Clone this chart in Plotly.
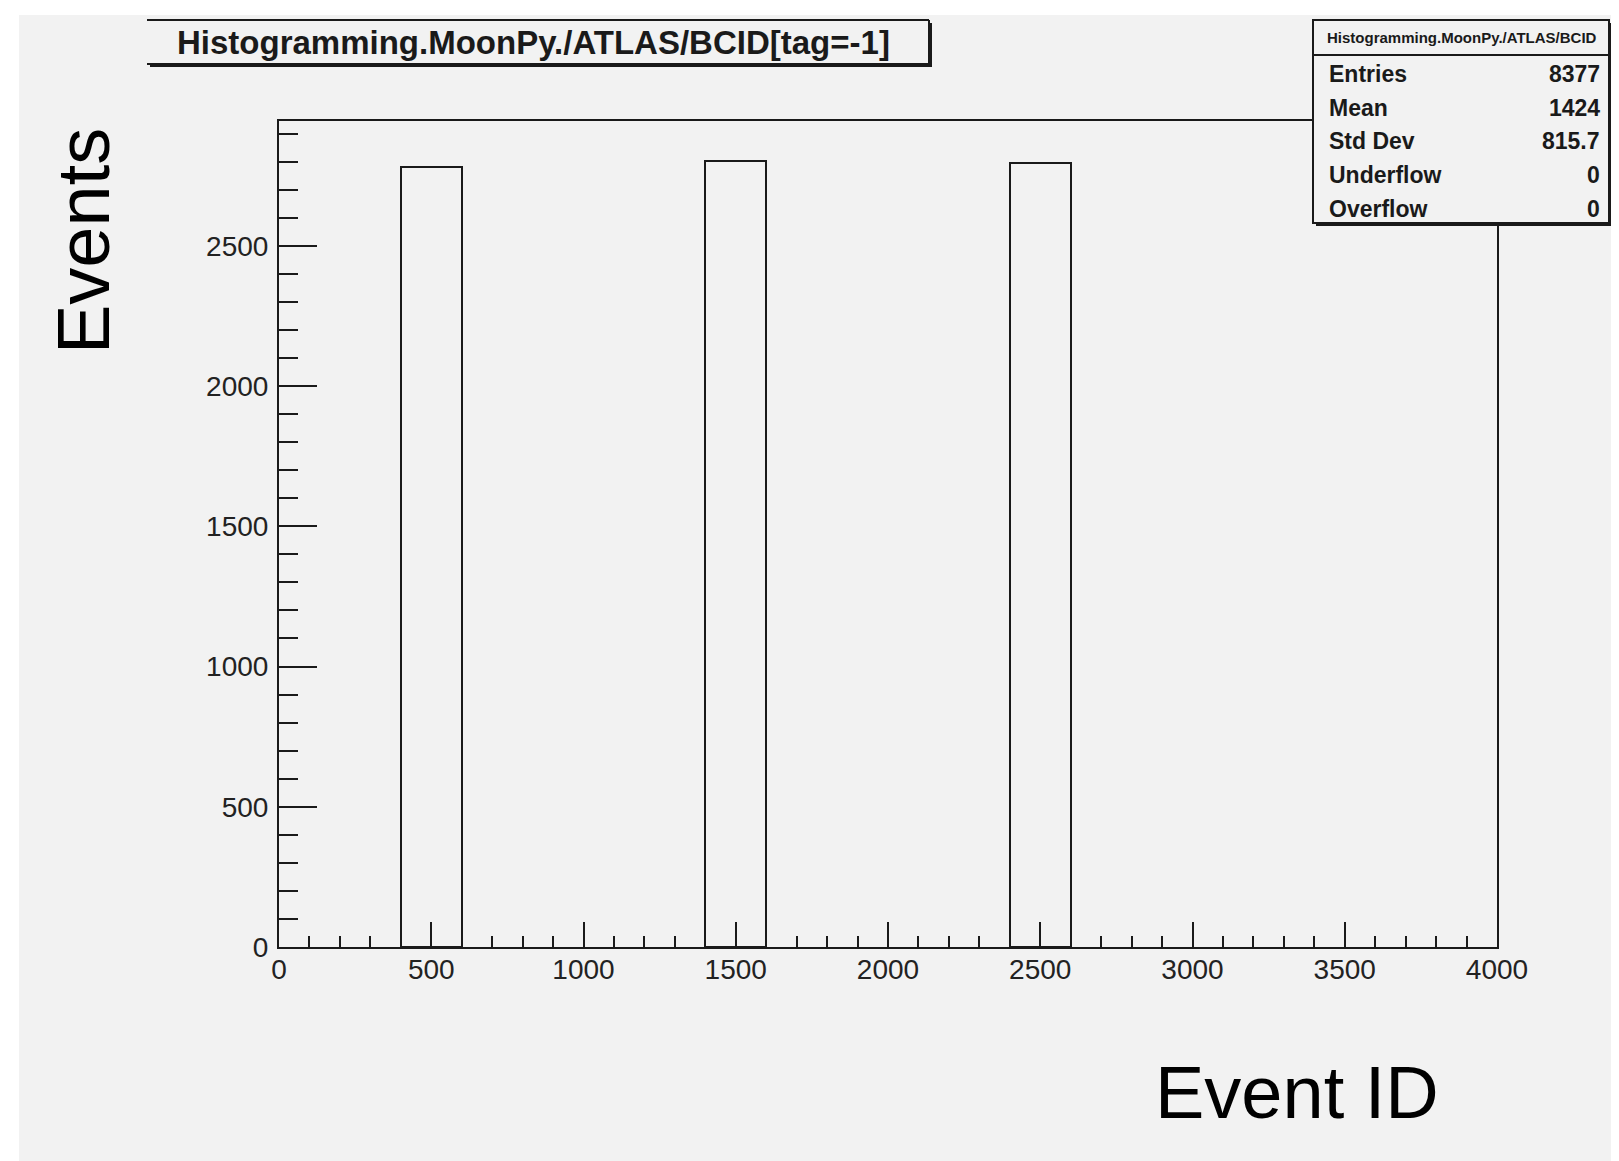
import plotly.graph_objects as go

# ---- data ----
bin_centers = [500, 1500, 2500]
bin_counts = [2780, 2802, 2795]
bin_width = 200
x_ticks = [0, 500, 1000, 1500, 2000, 2500, 3000, 3500, 4000]
y_ticks = [0, 500, 1000, 1500, 2000, 2500]
stat_labels = ["Entries", "Mean", "Std Dev", "Underflow", "Overflow"]
stat_values = ["8377", "1424", "815.7", "0", "0"]
title_text = "Histogramming.MoonPy./ATLAS/BCID[tag=-1]"
stats_title = "Histogramming.MoonPy./ATLAS/BCID"

W, H = 1619, 1161
OFF = 8  # browser body margin
L, R, T, B = 279, 1497, 121, 947
BG = "#f2f2f2"
INK = "#1a1a1a"
FONT = "Liberation Sans, Arial, Helvetica, sans-serif"

def px(x):
    return (x - L) / (R - L)

def py(y):
    return (B - y) / (B - T)

fig = go.Figure()
fig.add_trace(go.Bar(
    x=bin_centers, y=bin_counts, width=[bin_width] * len(bin_centers),
    marker=dict(color="rgba(0,0,0,0)", line=dict(color=INK, width=2)),
    showlegend=False, hoverinfo="x+y",
))

shapes = []
# white outer strips (canvas border)
shapes.append(dict(type="rect", xref="paper", yref="paper", x0=px(0), x1=px(W), y0=py(0), y1=py(15),
                   fillcolor="white", line=dict(width=0), layer="below"))
shapes.append(dict(type="rect", xref="paper", yref="paper", x0=px(0), x1=px(19), y0=py(0), y1=py(H),
                   fillcolor="white", line=dict(width=0), layer="below"))

# title box: shadow + box
tx0, tx1, ty0, ty1 = 147, 929, 20, 64
shapes.append(dict(type="rect", xref="paper", yref="paper", x0=px(tx0 + 3), x1=px(tx1 + 3), y0=py(ty0 + 3), y1=py(ty1 + 3),
                   fillcolor=INK, line=dict(width=0)))
shapes.append(dict(type="rect", xref="paper", yref="paper", x0=px(tx0), x1=px(tx1), y0=py(ty0), y1=py(ty1),
                   fillcolor=BG, line=dict(width=0)))
for (a, b, c, d) in [(tx0, ty0, tx1, ty0), (tx0, ty1, tx1, ty1), (tx1, ty0, tx1, ty1)]:
    shapes.append(dict(type="line", xref="paper", yref="paper", x0=px(a), x1=px(c), y0=py(b), y1=py(d),
                       line=dict(color=INK, width=2)))

# stats box
sx0, sx1, sy0, sy1 = 1313, 1609, 20, 223
shapes.append(dict(type="rect", xref="paper", yref="paper", x0=px(sx0 + 3), x1=px(sx1 + 3), y0=py(sy0 + 3), y1=py(sy1 + 3),
                   fillcolor=INK, line=dict(width=0)))
shapes.append(dict(type="rect", xref="paper", yref="paper", x0=px(sx0), x1=px(sx1), y0=py(sy0), y1=py(sy1),
                   fillcolor=BG, line=dict(color=INK, width=2)))
shapes.append(dict(type="line", xref="paper", yref="paper", x0=px(sx0), x1=px(sx1), y0=py(55), y1=py(55),
                   line=dict(color=INK, width=2)))

annotations = []
annotations.append(dict(text=f"<b>{title_text}</b>", xref="paper", yref="paper", x=px(533), y=py(42),
                        xanchor="center", yanchor="middle", showarrow=False,
                        font=dict(family=FONT, size=33, color=INK)))
annotations.append(dict(text=f"<b>{stats_title}</b>", xref="paper", yref="paper", x=px(1462), y=py(38),
                        xanchor="center", yanchor="middle", showarrow=False,
                        font=dict(family=FONT, size=15, color=INK)))
row_y = [74, 108, 141, 175, 209]
for lab, val, yy in zip(stat_labels, stat_values, row_y):
    annotations.append(dict(text=f"<b>{lab}</b>", xref="paper", yref="paper", x=px(1327), y=py(yy),
                            xanchor="left", yanchor="middle", showarrow=False,
                            font=dict(family=FONT, size=23, color=INK)))
    annotations.append(dict(text=f"<b>{val}</b>", xref="paper", yref="paper", x=px(1602), y=py(yy),
                            xanchor="right", yanchor="middle", showarrow=False,
                            font=dict(family=FONT, size=23, color=INK)))
# axis titles
annotations.append(dict(text="Events", xref="paper", yref="paper", x=px(84), y=py(241),
                        xanchor="center", yanchor="middle", showarrow=False, textangle=-90,
                        font=dict(family=FONT, size=74, color="black")))
annotations.append(dict(text="Event ID", xref="paper", yref="paper", x=px(1297), y=py(1092),
                        xanchor="center", yanchor="middle", showarrow=False,
                        font=dict(family=FONT, size=74, color="black")))

fig.update_layout(
    width=W - OFF, height=H - OFF,
    margin=dict(l=L - OFF, r=W - R, t=T - OFF, b=H - B, pad=0),
    paper_bgcolor=BG, plot_bgcolor=BG,
    shapes=shapes, annotations=annotations,
    bargap=0,
)
fig.update_xaxes(
    range=[0, 4000], tickvals=x_ticks, ticktext=[str(v) for v in x_ticks],
    ticks="inside", ticklen=25, tickwidth=2, tickcolor=INK,
    minor=dict(dtick=100, ticks="inside", ticklen=11, tickwidth=2, tickcolor=INK),
    showline=True, linecolor=INK, linewidth=2, mirror=True,
    showgrid=False, zeroline=False,
    tickfont=dict(family=FONT, size=28, color="#222"),
    ticklabelstandoff=-4,
)
fig.update_yaxes(
    range=[0, 2945], tickvals=y_ticks, ticktext=[str(v) for v in y_ticks],
    ticks="inside", ticklen=38, tickwidth=2, tickcolor=INK,
    minor=dict(dtick=100, ticks="inside", ticklen=19, tickwidth=2, tickcolor=INK),
    showline=True, linecolor=INK, linewidth=2, mirror=True,
    showgrid=False, zeroline=False,
    tickfont=dict(family=FONT, size=28, color="#222"),
    ticklabelstandoff=3,
)

fig.write_html("out.html")
